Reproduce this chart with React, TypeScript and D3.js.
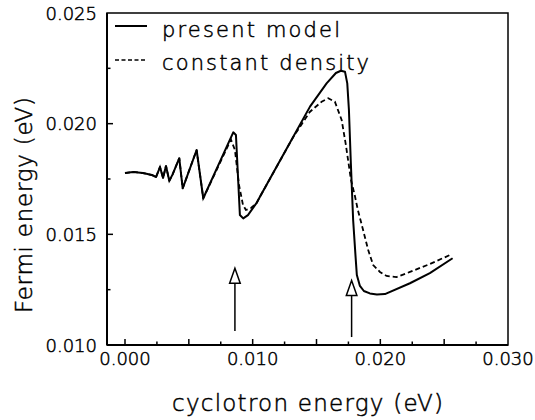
import React from 'react';
import * as d3 from 'd3';

const solidX = [0.0, 0.00063, 0.00141, 0.00211, 0.00243, 0.00274, 0.00298, 0.00321, 0.00347, 0.00373, 0.00425, 0.00452, 0.00561, 0.00613, 0.00848, 0.00869, 0.009, 0.00926, 0.00963, 0.01031, 0.01057, 0.01318, 0.01449, 0.01579, 0.01652, 0.01691, 0.01723, 0.01741, 0.01754, 0.01769, 0.01787, 0.01805, 0.01816, 0.0184, 0.01871, 0.01918, 0.01973, 0.02036, 0.02232, 0.02388, 0.02566];
const solidY = [0.01777, 0.01782, 0.01777, 0.01768, 0.01759, 0.01804, 0.01755, 0.01809, 0.01742, 0.01771, 0.01844, 0.01708, 0.01881, 0.01663, 0.01961, 0.01949, 0.01587, 0.01572, 0.01587, 0.01642, 0.0167, 0.01941, 0.02077, 0.02182, 0.02229, 0.02239, 0.02235, 0.02182, 0.02062, 0.01822, 0.01565, 0.01407, 0.01316, 0.01267, 0.01244, 0.01233, 0.01228, 0.0123, 0.01279, 0.01325, 0.01392];

const dashedX = [0.0, 0.00063, 0.00141, 0.00211, 0.00243, 0.00274, 0.00298, 0.00321, 0.00347, 0.00373, 0.00425, 0.00452, 0.00561, 0.00613, 0.0083, 0.00861, 0.00893, 0.00924, 0.00947, 0.00987, 0.01031, 0.01057, 0.01318, 0.01449, 0.0154, 0.01592, 0.01644, 0.01697, 0.0173, 0.0177, 0.01801, 0.01824, 0.01855, 0.01905, 0.01944, 0.01997, 0.02049, 0.02127, 0.02232, 0.02388, 0.02558];
const dashedY = [0.01777, 0.01782, 0.01777, 0.01768, 0.01759, 0.01804, 0.01755, 0.01809, 0.01742, 0.01771, 0.01844, 0.01708, 0.01881, 0.01663, 0.01928, 0.01881, 0.01723, 0.01633, 0.0161, 0.01619, 0.01642, 0.0167, 0.0194, 0.02054, 0.02099, 0.02115, 0.02099, 0.02017, 0.01904, 0.01746, 0.01673, 0.0161, 0.01542, 0.01429, 0.01361, 0.0133, 0.01312, 0.01307, 0.0133, 0.01366, 0.0141];

const xTicks = [0, 0.0025, 0.005, 0.0075, 0.01, 0.0125, 0.015, 0.0175, 0.02, 0.0225, 0.025, 0.0275];
const xLabels = [0, 0.01, 0.02, 0.03];
const yTicks = [0.0125, 0.015, 0.0175, 0.02, 0.0225];
const yLabels = [0.01, 0.015, 0.02, 0.025];

const arrowX = [0.00861, 0.01775];
const arrowBase = [0.01063, 0.01036];
const arrowTip = [0.01347, 0.01291];

const legendLabels = ['present model', 'constant density'];
const xTitle = 'cyclotron energy (eV)';
const yTitle = 'Fermi energy (eV)';

const FONT = 'DejaVu Sans, sans-serif';
const WEIGHT = 200;
const TS = 0.5;

export default function App() {
  const left = 107, right = 508, top = 13, bottom = 345;
  const x = d3.scaleLinear().domain([-0.00141, 0.03]).range([left, right]);
  const y = d3.scaleLinear().domain([0.01, 0.025]).range([bottom, top]);
  const fmt = d3.format('.3f');

  const pathGen = d3.line<[number, number]>()
    .x((d) => x(d[0]))
    .y((d) => y(d[1]))
    .curve(d3.curveLinear);
  const solidPath = pathGen(solidX.map((v, i) => [v, solidY[i]] as [number, number])) || '';
  const dashedPath = pathGen(dashedX.map((v, i) => [v, dashedY[i]] as [number, number])) || '';

  const isMajor = (v: number) => Math.abs(Math.round(v / 0.005) * 0.005 - v) < 1e-9;
  const textProps = { fontFamily: FONT, fontWeight: WEIGHT, fill: '#000', stroke: '#000', strokeWidth: TS };

  return (
    <svg width={535} height={420} style={{ position: 'absolute', left: 0, top: 0, background: '#fff' }}>
      <rect x={0} y={0} width={535} height={420} fill="#fff" />
      {/* frame */}
      <rect x={left} y={top} width={right - left} height={bottom - top} fill="none" stroke="#000" strokeWidth={1.5} />
      <line x1={left} x2={left} y1={top} y2={bottom} stroke="#000" strokeWidth={2} />
      <line x1={left} x2={right} y1={bottom} y2={bottom} stroke="#000" strokeWidth={2} />

      {/* x ticks */}
      {xTicks.map((t) => (
        <line key={'xt' + t} x1={x(t)} x2={x(t)} y1={bottom} y2={bottom - (isMajor(t) ? 6 : 3.5)} stroke="#000" strokeWidth={1.5} />
      ))}
      {xLabels.map((t) => (
        <text key={'xl' + t} x={x(t)} y={365} textAnchor="middle" fontSize={18} {...textProps}>{fmt(t)}</text>
      ))}
      {/* y ticks */}
      {yTicks.map((t) => (
        <line key={'yt' + t} x1={left} x2={left + (isMajor(t) ? 6 : 3.5)} y1={y(t)} y2={y(t)} stroke="#000" strokeWidth={1.5} />
      ))}
      {yLabels.map((t) => (
        <text key={'yl' + t} x={97} y={y(t) + 6.5} textAnchor="end" fontSize={18} {...textProps}>{fmt(t)}</text>
      ))}

      {/* curves */}
      <path d={dashedPath} fill="none" stroke="#000" strokeWidth={1.8} strokeDasharray="5,3" />
      <path d={solidPath} fill="none" stroke="#000" strokeWidth={2} strokeLinejoin="round" />

      {/* arrows */}
      {arrowX.map((ax, i) => {
        const px = x(ax);
        const tip = y(arrowTip[i]);
        const base = y(arrowBase[i]);
        const hl = 15, hw = 5.3;
        return (
          <g key={'ar' + i}>
            <line x1={px} x2={px} y1={base} y2={tip + hl} stroke="#000" strokeWidth={1.5} />
            <path d={`M${px},${tip} L${px - hw},${tip + hl} L${px + hw},${tip + hl} Z`} fill="#fff" stroke="#000" strokeWidth={1.5} strokeLinejoin="miter" />
          </g>
        );
      })}

      {/* legend */}
      <line x1={115} x2={147} y1={26} y2={26} stroke="#000" strokeWidth={2} />
      <line x1={115} x2={147} y1={60} y2={60} stroke="#000" strokeWidth={1.5} strokeDasharray="4,2.5" />
      <text x={162} y={37} fontSize={21} textLength={178} lengthAdjust="spacing" {...textProps}>{legendLabels[0]}</text>
      <text x={162} y={70} fontSize={21} textLength={207} lengthAdjust="spacing" {...textProps}>{legendLabels[1]}</text>

      {/* axis titles */}
      <text x={172} y={411} fontSize={23} textLength={271} lengthAdjust="spacing" {...textProps}>{xTitle}</text>
      <text transform="translate(32,313) rotate(-90)" x={0} y={0} fontSize={23} textLength={216} lengthAdjust="spacing" {...textProps}>{yTitle}</text>
    </svg>
  );
}
